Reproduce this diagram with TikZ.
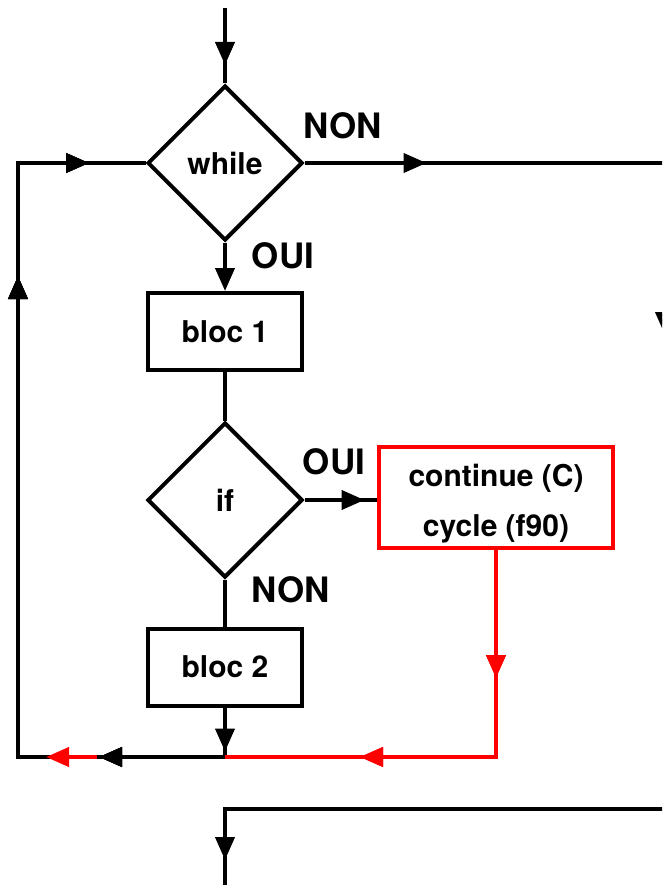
\documentclass[tikz,border=0pt]{standalone}
\usepackage{fontspec}
\setmainfont{TeX Gyre Heros}
\usetikzlibrary{shapes.geometric,arrows.meta,decorations.markings}
\tikzset{
  ln/.style={line width=4pt},
  tipa/.tip={Triangle[length=23pt,width=19pt]},
  marr/.style={decoration={markings,mark=at position #1 with {\arrow{tipa}}},postaction={decorate}},
  dia/.style={diamond,draw,ln,aspect=1,minimum width=155pt,minimum height=155pt,inner sep=0pt,font=\fontsize{30}{36}\selectfont\bfseries},
  blk/.style={rectangle,draw,ln,minimum width=154pt,minimum height=77pt,inner sep=0pt,font=\fontsize{30}{36}\selectfont\bfseries},
  redbox/.style={rectangle,draw=red,ln,minimum width=234pt,minimum height=101pt,inner sep=0pt},
  boxtxt/.style={inner sep=0pt,align=center,font=\fontsize{30}{50}\selectfont\bfseries},
  lbl/.style={inner sep=0pt,font=\fontsize{35}{40}\selectfont\bfseries},
}
\begin{document}
\begin{tikzpicture}[x=1pt,y=-1pt]
\useasboundingbox (0,0) rectangle (662,885);
\clip (0,0) rectangle (662,885);
% nodes
\node[dia] (while) at (225,163) {while};
\node[blk] (bloc1) at (225,331.5) {bloc 1};
\node[dia] (if) at (225,500) {if};
\node[blk] (bloc2) at (225,667) {bloc 2};
\node[redbox] (cont) at (496,497.5) {};
\node[boxtxt] (conttxt) at (496,504) {continue (C)\\cycle (f90)};
% labels
\node[lbl] (lnon1) at (343,126) {NON};
\node[lbl] (loui1) at (283,256) {OUI};
\node[lbl] (loui2) at (334,462) {OUI};
\node[lbl] (lnon2) at (291,590) {NON};
% coordinates
\coordinate (top) at (225,8);
\coordinate (rgt) at (665,163);
\coordinate (rgtdn) at (665,420);
\coordinate (junc) at (225,757);
\coordinate (bl) at (18,757);
\coordinate (tl) at (18,163);
\coordinate (rc) at (496,757);
\coordinate (rs) at (97,757);
\coordinate (re) at (46,757);
\coordinate (br) at (670,809);
\coordinate (bc) at (225,809);
\coordinate (bb) at (225,900);
% connectors
\draw[ln,marr=57pt] (top) -- (while.north);
\draw[ln,-{tipa}] (while.south) -- (bloc1.north);
\draw[ln] (bloc1.south) -- (if.north);
\draw[ln,marr=60pt] (if.east) -- (if.east -| cont.west);
\draw[ln] (if.south) -- (bloc2.north);
\draw[ln,marr=44pt] (bloc2.south) -- (junc);
\draw[ln,marr=122pt] (while.east) -- (rgt);
\draw[ln,marr=172pt] (rgt) -- (rgtdn);
\draw[ln,marr=126pt,marr=688pt,marr=872pt] (junc) -- (bl) -- (tl) -- (while.west);
\draw[ln,red,marr=128pt,marr=343pt] (cont.south) -- (rc) -- (junc);
\draw[ln,red,-{tipa}] (rs) -- (re);
\draw[ln,marr=496pt] (br) -- (bc) -- (bb);
\end{tikzpicture}
\end{document}
